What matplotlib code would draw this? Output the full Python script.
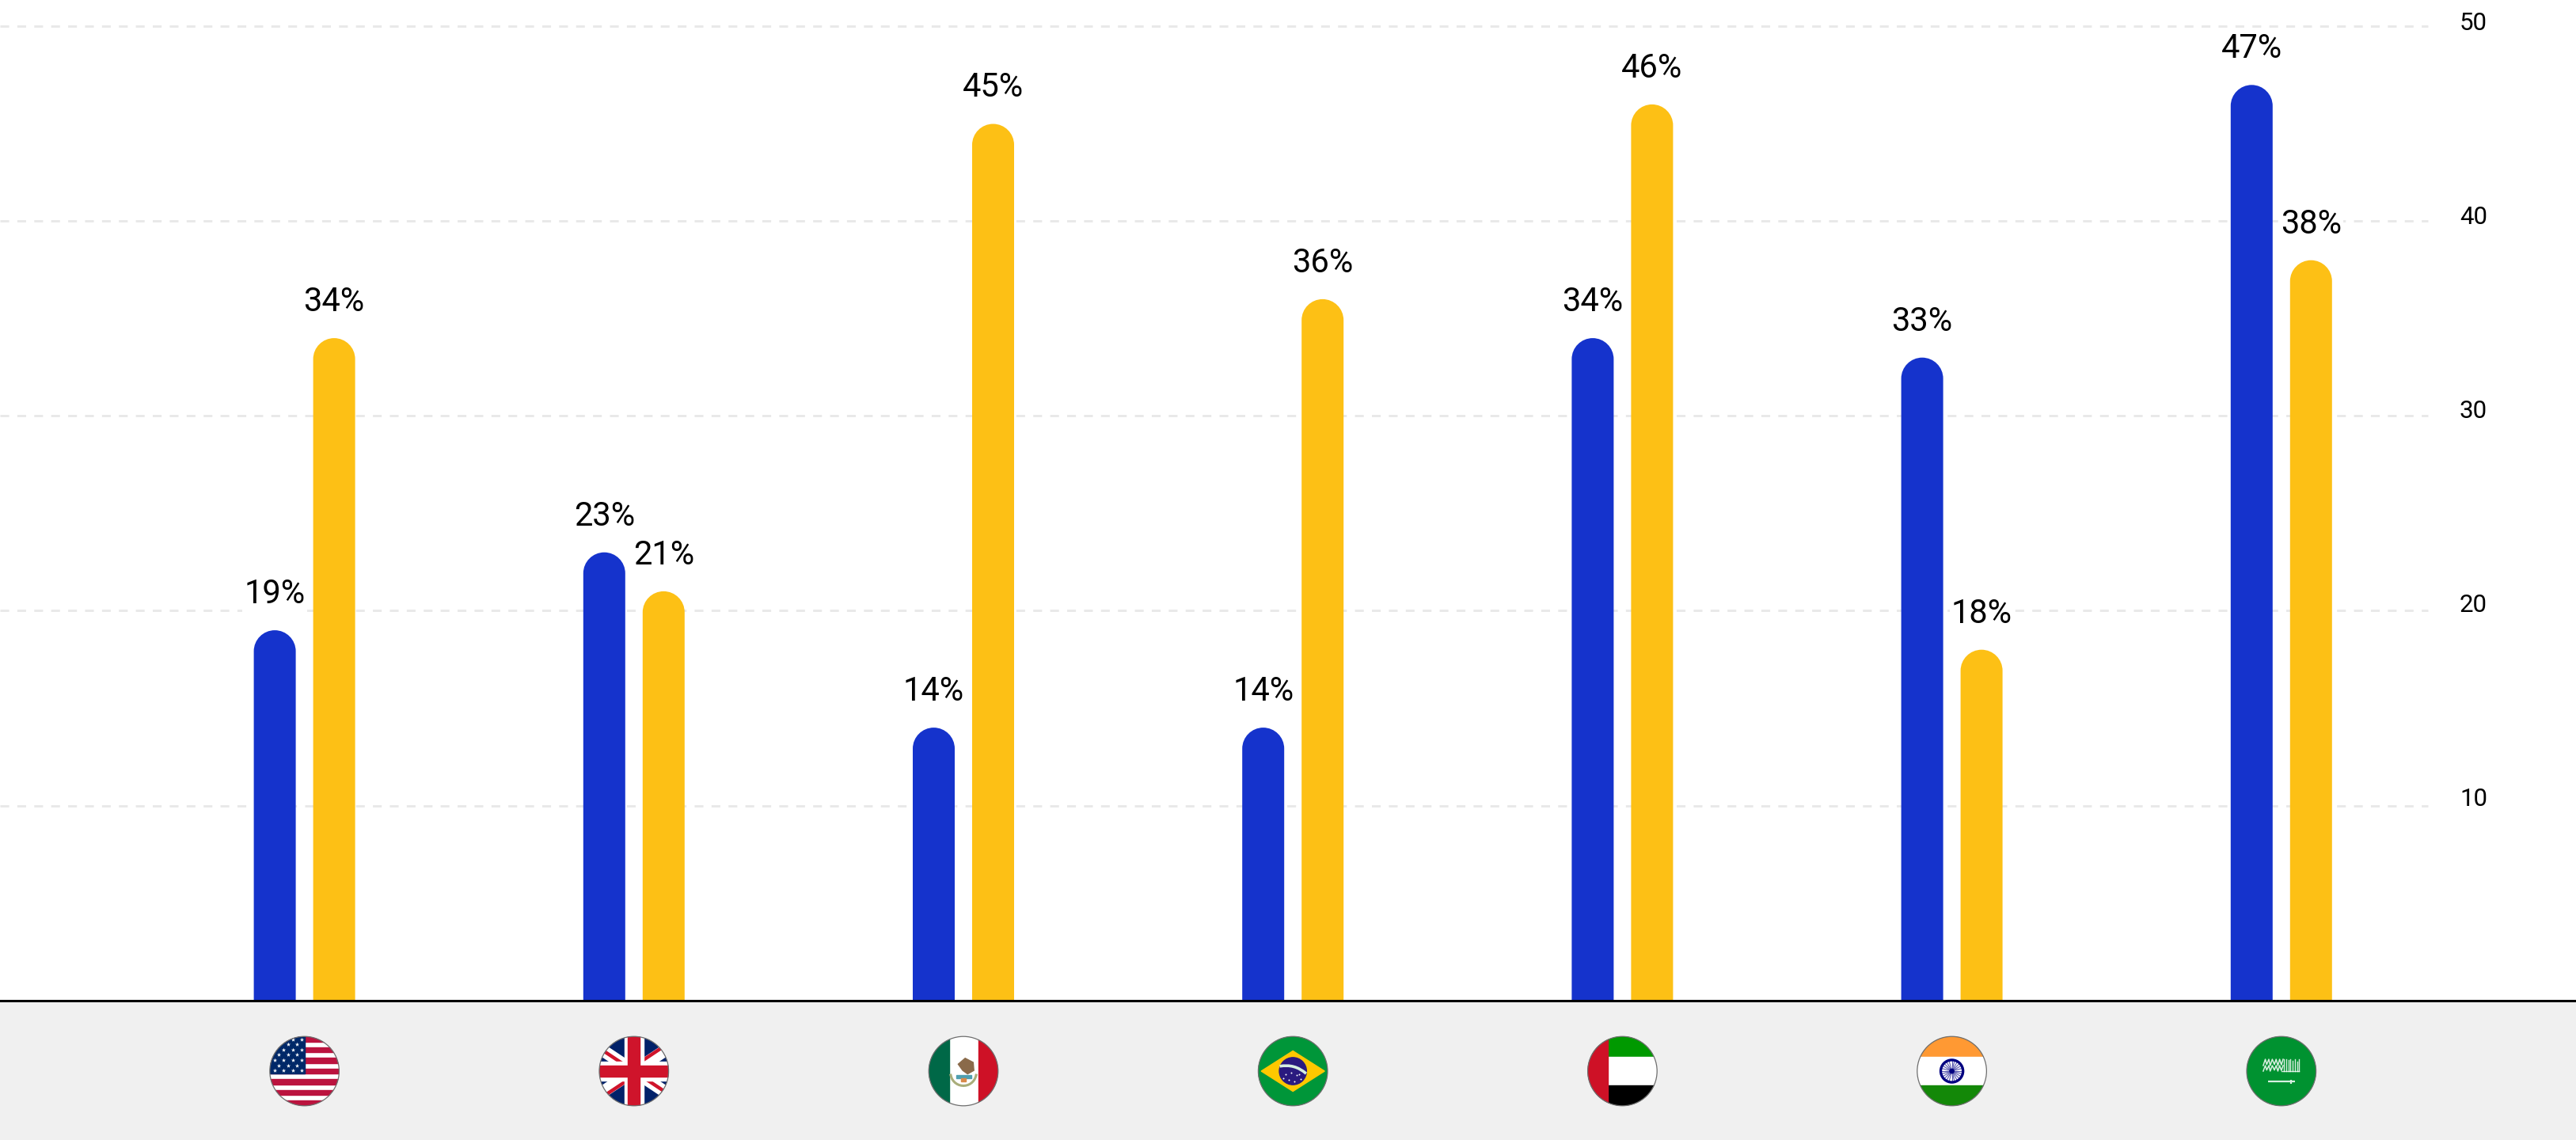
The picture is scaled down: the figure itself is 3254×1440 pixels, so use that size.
import numpy as np
from matplotlib import pyplot as plt
from matplotlib.patches import Circle, PathPatch, Polygon, Rectangle
from matplotlib.path import Path

plt.rcParams['font.family'] = ['Roboto', 'DejaVu Sans']
plt.rcParams['lines.scale_dashes'] = False

# Chart values
countries = ['usa', 'uk', 'mexico', 'brazil', 'uae', 'india', 'saudi']
blue_values = [19, 23, 14, 14, 34, 33, 47]
yellow_values = [34, 21, 45, 36, 46, 18, 38]
y_ticks = [10, 20, 30, 40, 50]

BLUE = '#1533cc'
YELLOW = '#fdc015'
BAND = '#f0f0f0'
GRID = '#e9e9e9'

# Figure layout in pixels
W, H = 3254, 1440
BASE_Y = 1263.5
PX_PER_UNIT = 24.6
FIRST_X = 384.6
STEP = 416.2
BAR_PX = 53
OFFSET_PX = 37.5
GRID_END = 3067
TICK_X = 3107
FLAG_R = 44


def rounded_bar(ax, x, value, color):
    # square at the bottom, half circle on top
    rx = BAR_PX / STEP / 2
    ry = BAR_PX / PX_PER_UNIT / 2
    k = 0.5523
    verts = [(x - rx, 0), (x - rx, value - ry),
             (x - rx, value - ry + k * ry), (x - k * rx, value), (x, value),
             (x + k * rx, value), (x + rx, value - ry + k * ry), (x + rx, value - ry),
             (x + rx, 0), (x - rx, 0)]
    codes = [Path.MOVETO, Path.LINETO] + [Path.CURVE4] * 6 + [Path.LINETO, Path.CLOSEPOLY]
    ax.add_patch(PathPatch(Path(verts, codes), facecolor=color, edgecolor='none', zorder=2))


def bar_label(ax, x, value):
    ax.annotate(str(value) + '%', xy=(x, value), xytext=(0, 24.5), textcoords='offset points',
                ha='center', va='baseline', fontsize=30, color='#000000', zorder=4,
                bbox=dict(boxstyle='square,pad=0.05', facecolor='white', edgecolor='none'))


def draw_usa(ax):
    ax.add_patch(Rectangle((-1, -1), 2, 2, color='white'))
    stripe = 2 / 13
    for i in range(0, 13, 2):
        ax.add_patch(Rectangle((-1, 1 - (i + 1) * stripe), 2, stripe, color='#bb133e'))
    ax.add_patch(Rectangle((-1, 1 - 7 * stripe), 1, 7 * stripe, color='#002868'))
    for row, y in enumerate([0.92, 0.77, 0.62, 0.47, 0.32, 0.16, 0.02]):
        xs = [-0.86, -0.6, -0.34, -0.09] if row % 2 == 0 else [-0.73, -0.47, -0.22]
        ax.scatter(xs, [y] * len(xs), marker='*', s=16, color='white', linewidths=0)


def draw_uk(ax):
    ax.add_patch(Rectangle((-1, -1), 2, 2, color='#012169'))
    for sign in (1, -1):
        ax.plot([-1.4, 1.4], [-0.93 * sign, 0.93 * sign], color='white', lw=11, solid_capstyle='butt')
    # counterchanged red saltire
    red = '#cf142b'
    ax.plot([-1.4, 0], [0.93, 0], color=red, lw=3.2, solid_capstyle='butt')
    ax.plot([0, 1.4], [0.14, 0.93 + 0.14], color=red, lw=3.2, solid_capstyle='butt')
    ax.plot([-1.4, 0], [-0.93 - 0.14, -0.14], color=red, lw=3.2, solid_capstyle='butt')
    ax.plot([0, 1.4], [0, -0.93], color=red, lw=3.2, solid_capstyle='butt')
    # the upright cross goes over the diagonals
    ax.add_patch(Rectangle((-0.27, -1), 0.54, 2, color='white', zorder=3))
    ax.add_patch(Rectangle((-1, -0.27), 2, 0.54, color='white', zorder=3))
    ax.add_patch(Rectangle((-0.17, -1), 0.34, 2, color=red, zorder=4))
    ax.add_patch(Rectangle((-1, -0.17), 2, 0.34, color=red, zorder=4))


def draw_mexico(ax):
    ax.add_patch(Rectangle((-1, -1), 2, 2, color='white'))
    ax.add_patch(Rectangle((-1, -1), 0.59, 2, color='#006847'))
    ax.add_patch(Rectangle((0.43, -1), 0.57, 2, color='#ce1126'))
    angles = np.radians(np.arange(190, 351, 10))
    ax.plot(0.37 * np.cos(angles), 0.37 * np.sin(angles) - 0.05, color='#a9ad7a', lw=2.2)
    ax.add_patch(Polygon([(-0.15, 0.2), (0.05, 0.37), (0.28, 0.25), (0.3, 0.02), (0.12, -0.08), (-0.02, 0.02)],
                         color='#8a6a4a'))
    ax.add_patch(Rectangle((-0.2, -0.2), 0.42, 0.08, color='#4f9fb0'))
    ax.add_patch(Rectangle((-0.07, -0.3), 0.14, 0.1, color='#d98a4a'))


def draw_brazil(ax):
    ax.add_patch(Rectangle((-1, -1), 2, 2, color='#009639'))
    ax.add_patch(Polygon([(-0.91, 0), (0, 0.58), (0.91, 0), (0, -0.58)], color='#fec800'))
    ax.add_patch(Circle((0, 0), 0.39, color='#2a1a7f'))
    band = Path([(-0.38, 0.14), (0.05, 0.22), (0.38, -0.07)], [Path.MOVETO, Path.CURVE3, Path.CURVE3])
    ax.add_patch(PathPatch(band, facecolor='none', edgecolor='#d6efe0', lw=2.6))
    ax.scatter([-0.2, -0.05, 0.1, 0.22, -0.12, 0.05, 0.18, -0.27], [-0.1, -0.05, -0.12, -0.22, -0.25, -0.3, -0.1, -0.2],
               s=2, color='white', linewidths=0)


def draw_uae(ax):
    ax.add_patch(Rectangle((-1, 0.42), 2, 0.58, color='#009900'))
    ax.add_patch(Rectangle((-1, -0.42), 2, 0.84, color='white'))
    ax.add_patch(Rectangle((-1, -1), 2, 0.58, color='black'))
    ax.add_patch(Rectangle((-1, -1), 0.59, 2, color='#ce1126'))


def draw_india(ax):
    ax.add_patch(Rectangle((-1, 0.41), 2, 0.59, color='#ff9933'))
    ax.add_patch(Rectangle((-1, -0.41), 2, 0.82, color='white'))
    ax.add_patch(Rectangle((-1, -1), 2, 0.59, color='#138808'))
    for angle in np.radians(np.arange(0, 360, 15)):
        ax.plot([0, 0.31 * np.cos(angle)], [0, 0.31 * np.sin(angle)], color='#5a5ab0', lw=0.8)
    ax.add_patch(Circle((0, 0), 0.32, facecolor='none', edgecolor='#000080', lw=2.4, zorder=3))
    ax.add_patch(Circle((0, 0), 0.06, color='#000080', zorder=3))


def draw_saudi(ax):
    ax.add_patch(Rectangle((-1, -1), 2, 2, color='#009230'))
    # shahada as fine white strokes
    for x, top in zip([0.08, 0.14, 0.2, 0.26, 0.33, 0.39, 0.45, 0.5], [0.34, 0.34, 0.32, 0.34, 0.3, 0.34, 0.28, 0.34]):
        ax.plot([x, x], [0.0, top], color='white', lw=1.0, alpha=0.85)
    wave_x = [-0.52, -0.46, -0.42, -0.36, -0.32, -0.26, -0.2, -0.15, -0.1, -0.05, 0.0, 0.05]
    for low, high in [(0.0, 0.16), (0.16, 0.34)]:
        wave_y = [low, high, low + 0.03, high, low, high, low + 0.03, high, low, high, low + 0.02, high]
        ax.plot(wave_x, wave_y, color='white', lw=1.1, alpha=0.85)
    ax.plot([0.0, 0.5], [0.0, 0.0], color='white', lw=1.0, alpha=0.8)
    # sword
    ax.plot([-0.39, 0.39], [-0.3, -0.3], color='#d6efe0', lw=1.6, solid_capstyle='butt')
    ax.plot([0.27, 0.27], [-0.36, -0.24], color='#d6efe0', lw=1.6, solid_capstyle='butt')


FLAGS = {'usa': draw_usa, 'uk': draw_uk, 'mexico': draw_mexico, 'brazil': draw_brazil,
         'uae': draw_uae, 'india': draw_india, 'saudi': draw_saudi}


def draw_flag(fig, name, cx, cy):
    ax = fig.add_axes([(cx - FLAG_R) / W, 1 - (cy + FLAG_R) / H, 2 * FLAG_R / W, 2 * FLAG_R / H])
    ax.set_xlim(-1, 1)
    ax.set_ylim(-1, 1)
    ax.axis('off')
    FLAGS[name](ax)
    clip = Circle((0, 0), 1, transform=ax.transData)
    for artist in ax.patches + ax.lines + ax.collections:
        artist.set_clip_path(clip)
    ax.add_patch(Circle((0, 0), 0.995, facecolor='none', edgecolor='#6e6e6e', lw=0.9, clip_on=False, zorder=10))


fig = plt.figure(figsize=(W / 100, H / 100), dpi=100, facecolor='white')
ax = fig.add_axes([0, 0, 1, 1])
ax.set_xlim(-FIRST_X / STEP, (W - FIRST_X) / STEP)
y_min = -(H - BASE_Y) / PX_PER_UNIT
ax.set_ylim(y_min, BASE_Y / PX_PER_UNIT)
ax.axis('off')

x_left = -FIRST_X / STEP
x_grid_end = (GRID_END - FIRST_X) / STEP
x_tick = (TICK_X - FIRST_X) / STEP

# grey band under the baseline
ax.axhspan(y_min, 0, facecolor=BAND, edgecolor='none', zorder=0)

for tick in y_ticks:
    ax.plot([x_left, x_grid_end], [tick, tick], color=GRID, lw=2.1, dashes=(8, 7.4),
            dash_capstyle='butt', zorder=1)
    # tick text sits a little higher over the lines further down
    ax.annotate(str(tick), xy=(x_tick, tick), xytext=(0, -3.4 + (50 - tick) * 0.072), textcoords='offset points',
                ha='left', va='baseline', fontsize=22.5, color='#000000')

offset = OFFSET_PX / STEP
for i, name in enumerate(countries):
    rounded_bar(ax, i - offset, blue_values[i], BLUE)
    rounded_bar(ax, i + offset, yellow_values[i], YELLOW)
    bar_label(ax, i - offset, blue_values[i])
    bar_label(ax, i + offset, yellow_values[i])
    draw_flag(fig, name, FIRST_X + i * STEP, 1353)

ax.axhline(0, color='black', lw=2.2, zorder=3)

plt.savefig('out.png', dpi=100)
